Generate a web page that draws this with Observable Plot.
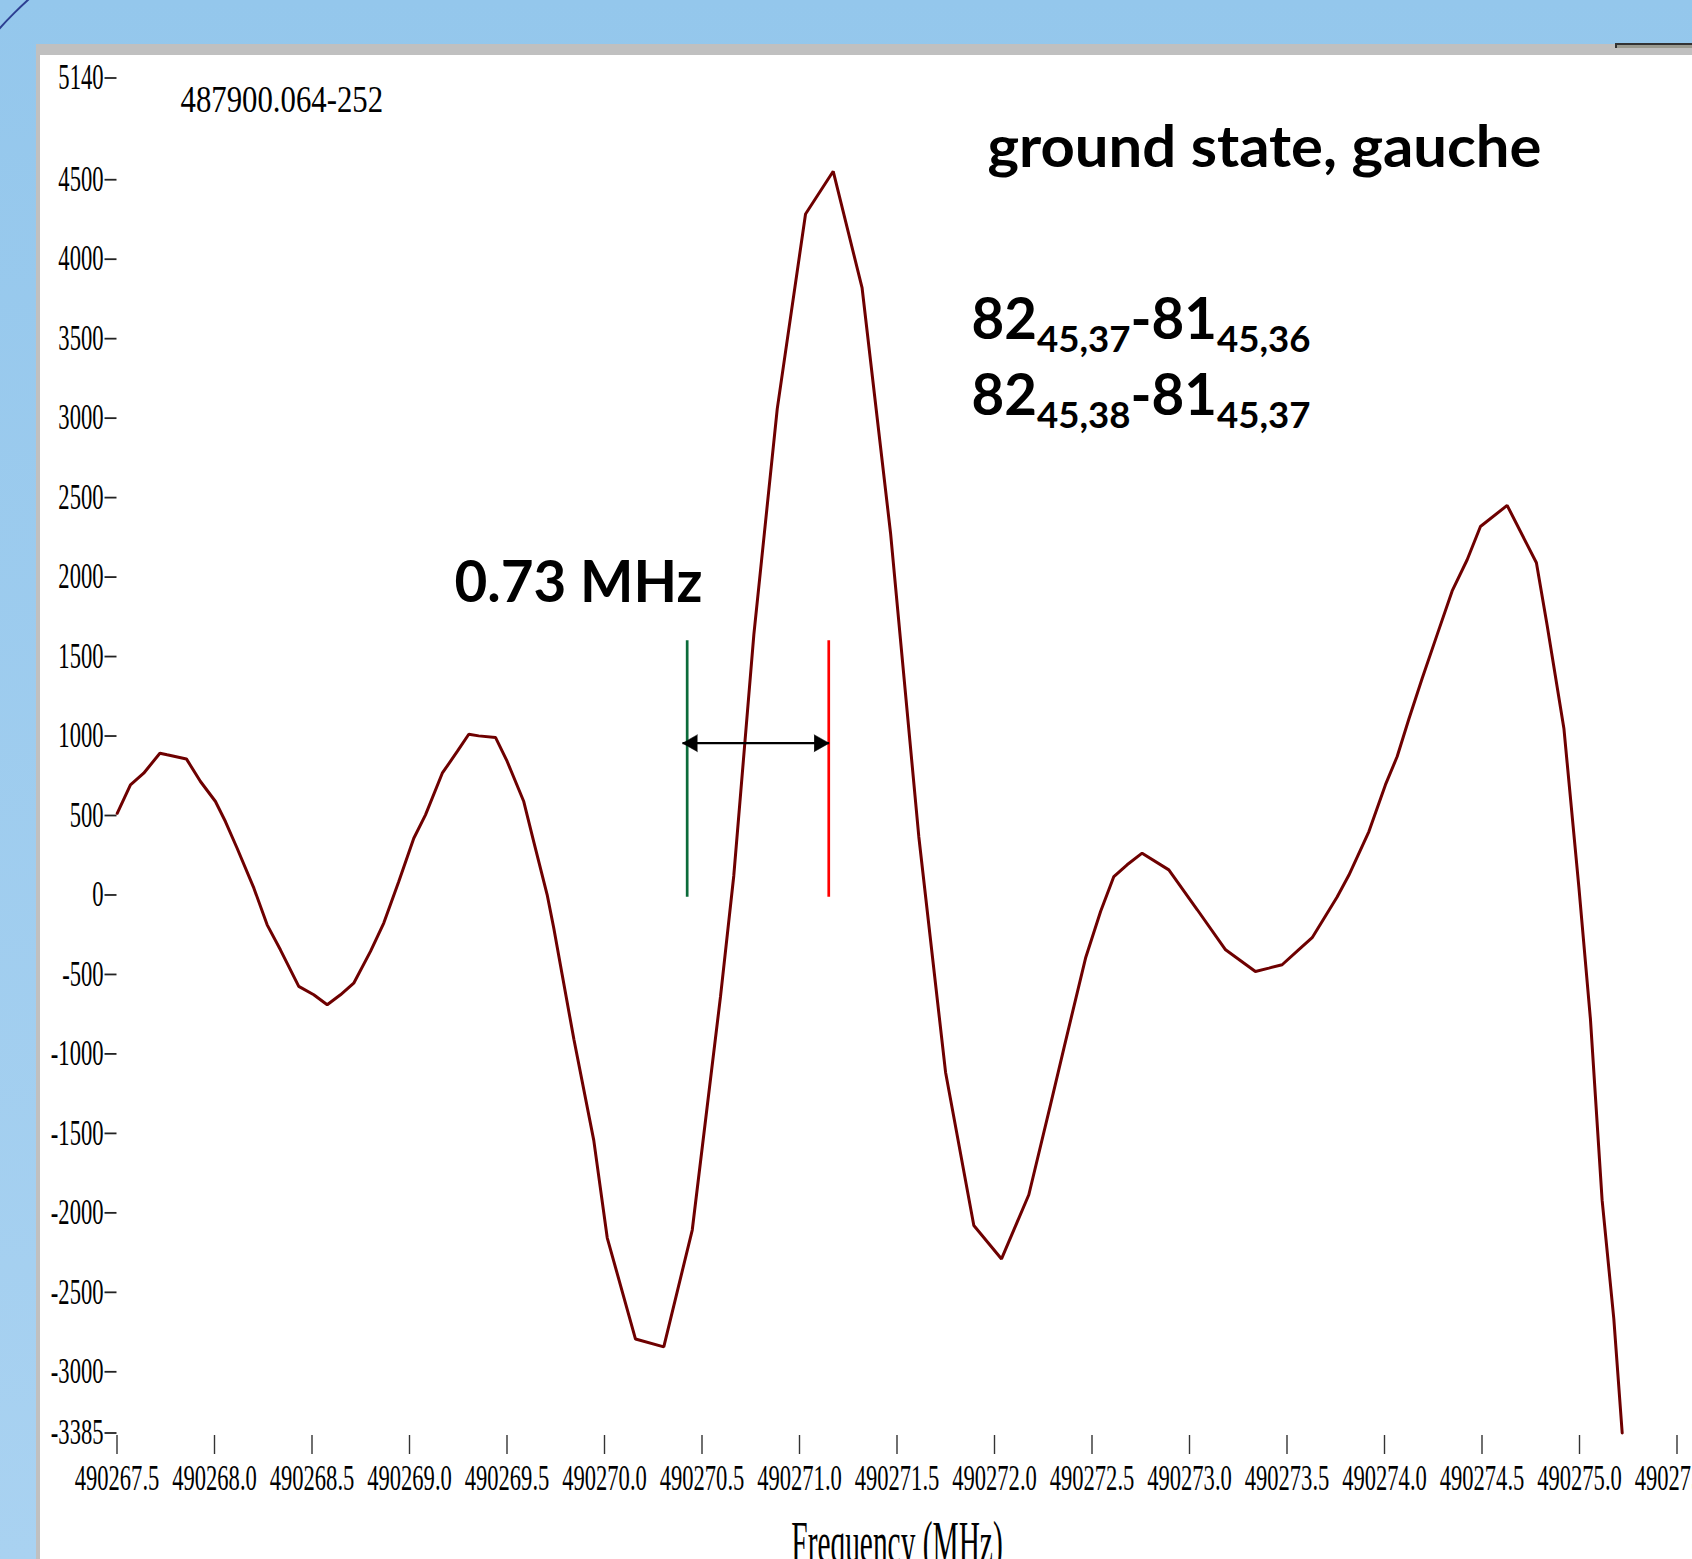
<!DOCTYPE html>
<html>
<head>
<meta charset="utf-8">
<script src="https://cdn.jsdelivr.net/npm/d3@7"></script>
<script src="https://cdn.jsdelivr.net/npm/@observablehq/plot@0.6"></script>
<style>
  html, body { margin: 0; padding: 0; width: 1692px; height: 1559px; overflow: hidden; }
  body { position: relative; background: linear-gradient(#94C7EC, #A9D2F1); }
  #panel { position: absolute; left: 36px; top: 44px; right: 0; bottom: 0; background: #fff;
           border-left: 4px solid #C0C0C0; border-top: 11px solid #C0C0C0; }
  #arcwrap { position: absolute; left: 0; top: 0; width: 36px; height: 44px; overflow: hidden; }
  #arc { position: absolute; left: -106px; top: -106px; width: 812px; height: 812px; border-radius: 50%;
         border: 2px solid #2D3F92; box-sizing: border-box; }
  #tab { position: absolute; left: 1615px; top: 43px; width: 77px; height: 3px; background: #9a9a90;
         border-top: 2px solid #333; border-left: 2px solid #333; }
  #chart { position: absolute; left: 0; top: 0; }
</style>
</head>
<body>
<div id="arcwrap"><div id="arc"></div></div>
<div id="panel"></div>
<div id="tab"></div>
<div id="chart"></div>
<script>
// ---- data ----
const freq = [
  490267.501, 490267.569, 490267.637, 490267.720, 490267.757, 490267.856, 490267.928, 490268.005, 490268.056, 490268.116,
  490268.202, 490268.270, 490268.338, 490268.432, 490268.509, 490268.578, 490268.646, 490268.714, 490268.800, 490268.868,
  490268.945, 490269.022, 490269.082, 490269.168, 490269.245, 490269.304, 490269.355, 490269.441, 490269.501, 490269.586,
  490269.637, 490269.706, 490269.740, 490269.783, 490269.843, 490269.945, 490270.014, 490270.159, 490270.304, 490270.450,
  490270.595, 490270.663, 490270.766, 490270.886, 490271.031, 490271.173, 490271.321, 490271.467, 490271.612, 490271.749,
  490271.894, 490272.036, 490272.176, 490272.287, 490272.356, 490272.467, 490272.544, 490272.612, 490272.680, 490272.757,
  490272.894, 490273.040, 490273.185, 490273.338, 490273.407, 490273.475, 490273.569, 490273.629, 490273.757, 490273.817,
  490273.920, 490274.005, 490274.065, 490274.125, 490274.193, 490274.270, 490274.347, 490274.424, 490274.492, 490274.629,
  490274.779, 490274.834, 490274.920, 490274.997, 490275.056, 490275.116, 490275.176, 490275.219
];
const intensity = [
  514, 693, 766, 892, 882, 856, 714, 588, 462, 294,
  43, -188, -345, -575, -628, -691, -628, -555, -355, -177,
  85, 357, 504, 766, 903, 1011, 1001, 991, 840, 588,
  336, 1, -209, -502, -908, -1544, -2157, -2794, -2843, -2108,
  -638, 121, 1639, 3060, 4284, 4553, 3819, 2276, 365, -1115,
  -2080, -2290, -1886, -1320, -963, -397, -104, 116, 190, 263,
  158, -93, -345, -481, -460, -439, -335, -269, -13, 124,
  399, 694, 871, 1107, 1362, 1638, 1913, 2109, 2318, 2451,
  2090, 1697, 1048, 46, -780, -1920, -2667, -3385
];

const xTicks = [490267.5, 490268.0, 490268.5, 490269.0, 490269.5, 490270.0, 490270.5, 490271.0, 490271.5,
                490272.0, 490272.5, 490273.0, 490273.5, 490274.0, 490274.5, 490275.0, 490275.5];
const yTicks = [5140, 4500, 4000, 3500, 3000, 2500, 2000, 1500, 1000, 500, 0,
                -500, -1000, -1500, -2000, -2500, -3000, -3385];
const xDomain = [490267.5, 490275.5];
const yDomain = [-3385, 5140];

// marker lines and the 0.73 MHz arrow
const markerX = [490270.424, 490271.150];
const markerColor = ["#0B6B3A", "#FF0000"];
const markerSpan = [-15, 1600];
const arrowX = [490270.400, 490271.152];
const arrowY = 955;

// annotation texts
const titleText = "487900.064-252";
const titlePos = [490267.826, 4928];
const stateText = "ground state, gauche";
const statePos = [490271.964, 4582];
const splitText = "0.73 MHz";
const splitPos = [490269.231, 1846];
const quantumLines = ["82|45,37|-81|45,36", "82|45,38|-81|45,37"];
const quantumX = 490271.882;
const quantumY = [3498, 3022];
const xLabel = "Frequency (MHz)";

const spectrum = freq.map((f, i) => ({f, v: intensity[i]}));
const markers = markerX.map((x, i) => ({x, c: markerColor[i]}));
const heads = [{x: arrowX[0], r: -90}, {x: arrowX[1], r: 90}];
const quantum = quantumLines.map((t, i) => ({t, y: quantumY[i]}));

const sans = "Lato, 'Open Sans', sans-serif";
const serif = "'Liberation Serif', 'Times New Roman', serif";

const chart = Plot.plot({
  width: 1692,
  height: 1559,
  marginLeft: 116.5,
  marginRight: 15.5,
  marginTop: 77.5,
  marginBottom: 126.5,
  style: {background: "transparent", fontFamily: serif, fontSize: "35px", color: "#000"},
  x: {domain: xDomain, label: null},
  y: {domain: yDomain, label: null},
  marks: [
    Plot.axisX({ticks: xTicks, tickFormat: d => d.toFixed(1), tickSize: 19, tickPadding: 11, dy: 2.5,
                stroke: "#333", strokeWidth: 1.4, fill: "#000", label: null}),
    Plot.axisY({ticks: yTicks, tickFormat: d => String(d), tickSize: 12, tickPadding: 1.5,
                stroke: "#222", strokeWidth: 1.8, fill: "#000", label: null}),
    Plot.ruleX(markers, {x: "x", y1: markerSpan[0], y2: markerSpan[1], stroke: "c", strokeWidth: 2.7}),
    Plot.line(spectrum, {x: "f", y: "v", stroke: "#6E0000", strokeWidth: 3, strokeLinejoin: "miter"}),
    Plot.link([{x1: arrowX[0], x2: arrowX[1]}], {x1: "x1", x2: "x2", y1: arrowY, y2: arrowY, stroke: "#000", strokeWidth: 2.2}),
    Plot.vector(heads, {x: "x", y: arrowY, rotate: "r", length: 15, r: 8.5, shape: "spike", anchor: "end",
                        fill: "#000", stroke: "#000", strokeWidth: 0.5}),
    Plot.text([titleText], {x: titlePos[0], y: titlePos[1], text: d => d, textAnchor: "start", lineAnchor: "bottom",
                            fontFamily: serif, fontSize: 38, fill: "#000"}),
    Plot.text([stateText], {x: statePos[0], y: statePos[1], text: d => d, textAnchor: "start", lineAnchor: "bottom",
                            fontFamily: sans, fontWeight: 700, fontSize: 57, fill: "#000"}),
    Plot.text([splitText], {x: splitPos[0], y: splitPos[1], text: d => d, textAnchor: "start", lineAnchor: "bottom",
                            fontFamily: sans, fontWeight: 700, fontSize: 57, fill: "#000"}),
    Plot.text(quantum, {x: quantumX, y: "y", text: "t", textAnchor: "start", lineAnchor: "bottom",
                        fontFamily: sans, fontWeight: 700, fontSize: 57, fill: "#000"}),
    Plot.text([xLabel], {x: (xDomain[0] + xDomain[1]) / 2, frameAnchor: "bottom", dy: 129, text: d => d,
                         textAnchor: "middle", lineAnchor: "bottom", fontFamily: serif, fontSize: 60,
                         fill: "#000"})
  ]
});

document.getElementById("chart").appendChild(chart);

// ---- text styling: condensed glyphs and subscripts ----
const allText = Array.from(chart.querySelectorAll("text"));
function squeezeEl(t, s) {
  t.setAttribute("transform", (t.getAttribute("transform") || "") + ` scale(${s},1)`);
}
chart.querySelectorAll('g[aria-label="x-axis tick label"] text').forEach(t => squeezeEl(t, 0.645));
chart.querySelectorAll('g[aria-label="y-axis tick label"] text').forEach(t => squeezeEl(t, 0.645));
allText.filter(t => t.textContent === titleText).forEach(t => squeezeEl(t, 0.81));
allText.filter(t => t.textContent === xLabel).forEach(t => squeezeEl(t, 0.49));

function fitEl(t, w) {
  t.setAttribute("textLength", w);
  t.setAttribute("lengthAdjust", "spacingAndGlyphs");
}
allText.filter(t => t.textContent === stateText).forEach(t => fitEl(t, 554));
allText.filter(t => t.textContent === splitText).forEach(t => fitEl(t, 248));

const svgNS = "http://www.w3.org/2000/svg";
allText.filter(t => quantumLines.includes(t.textContent)).forEach(t => {
  const parts = t.textContent.split("|");
  while (t.firstChild) t.removeChild(t.firstChild);
  parts.forEach((p, i) => {
    const ts = document.createElementNS(svgNS, "tspan");
    ts.textContent = p;
    if (i % 2 === 1) { ts.setAttribute("font-size", "37"); ts.setAttribute("dy", "13"); }
    else if (i > 0) { ts.setAttribute("dy", "-13"); }
    t.appendChild(ts);
  });
  fitEl(t, 339);
});
</script>
</body>
</html>
